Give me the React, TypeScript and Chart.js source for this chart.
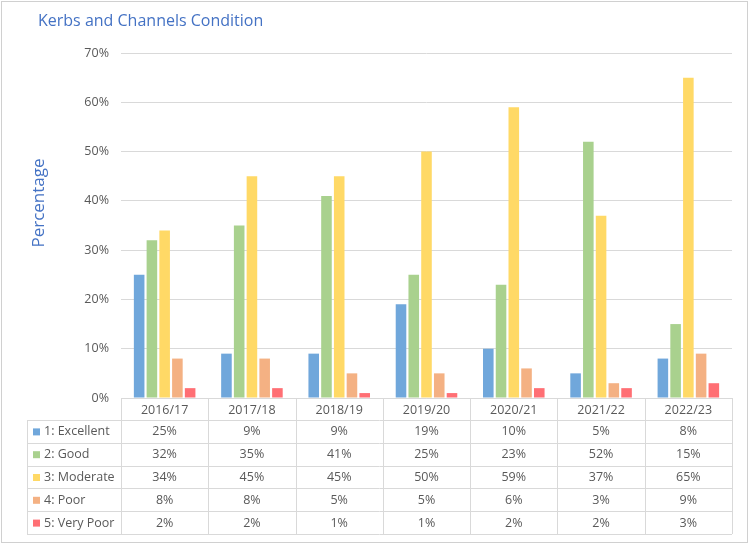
import React, { useEffect, useRef } from "react";
import { Chart, registerables } from "chart.js";

Chart.register(...registerables);

const chartTitle = "Kerbs and Channels Condition";
const yAxisTitle = "Percentage";
const categories = ["2016/17", "2017/18", "2018/19", "2019/20", "2020/21", "2021/22", "2022/23"];
const seriesNames = ["1: Excellent", "2: Good", "3: Moderate", "4: Poor", "5: Very Poor"];
const excellent = [25, 9, 9, 19, 10, 5, 8];
const good = [32, 35, 41, 25, 23, 52, 15];
const moderate = [34, 45, 45, 50, 59, 37, 65];
const poor = [8, 8, 5, 5, 6, 3, 9];
const veryPoor = [2, 2, 1, 1, 2, 2, 3];
const seriesValues = [excellent, good, moderate, poor, veryPoor];
const seriesColors = ["#70A7DB", "#A9D18E", "#FFD966", "#F4B183", "#FF6F74"];

const FONT = "'Open Sans', 'Noto Sans', sans-serif";
const TEXT = "#595959";
const LINE = "#D9D9D9";

const tablePlugin = {
  id: "dataTable",
  afterDraw(chart: any) {
    const ctx = chart.ctx as CanvasRenderingContext2D;
    const x = chart.scales.x;
    const area = chart.chartArea;
    const top = area.bottom;
    const headerH = 22;
    const rowH = 22.8;
    const left = 27;
    const right = area.right;
    const nRows = seriesNames.length;
    const bottom = top + headerH + rowH * nRows;
    ctx.save();
    // outer frame
    ctx.strokeStyle = "#D0D0D0";
    ctx.lineWidth = 1;
    ctx.strokeRect(1.5, 1.5, chart.width - 4, chart.height - 3);

    // title
    ctx.fillStyle = "#4472C4";
    ctx.font = `16px ${FONT}`;
    ctx.textAlign = "left";
    ctx.textBaseline = "middle";
    ctx.fillText(chartTitle, 38, 21);

    // y axis title
    ctx.save();
    ctx.translate(39, 203);
    ctx.rotate(-Math.PI / 2);
    ctx.font = `17px ${FONT}`;
    ctx.textAlign = "center";
    ctx.fillText(yAxisTitle, 0, 0);
    ctx.restore();

    ctx.strokeStyle = LINE;
    ctx.beginPath();
    const colW = x.getPixelForValue(1) - x.getPixelForValue(0);
    const colEdges: number[] = [];
    for (let i = 0; i <= categories.length; i++) {
      colEdges.push(x.getPixelForValue(i) - colW / 2);
    }
    const tableLeft = colEdges[0];
    const hl = (y: number, x0: number, x1: number) => {
      ctx.moveTo(x0, Math.round(y) + 0.5);
      ctx.lineTo(x1, Math.round(y) + 0.5);
    };
    hl(top, tableLeft, right);
    for (let r = 0; r <= nRows; r++) {
      hl(top + headerH + rowH * r, left, right);
    }
    const vl = (xx: number, y0: number, y1: number) => {
      ctx.moveTo(Math.round(xx) + 0.5, y0);
      ctx.lineTo(Math.round(xx) + 0.5, y1);
    };
    vl(left, top + headerH, bottom);
    colEdges.forEach((e) => vl(e, top, bottom));
    ctx.stroke();

    ctx.fillStyle = TEXT;
    ctx.font = `12.5px ${FONT}`;
    ctx.textAlign = "center";
    categories.forEach((c, i) => {
      ctx.fillText(c, x.getPixelForValue(i), top + headerH / 2 + 1);
    });
    seriesNames.forEach((name, r) => {
      const cy = top + headerH + rowH * r + rowH / 2 + 0.5;
      ctx.fillStyle = seriesColors[r];
      ctx.fillRect(33, cy - 3.5, 7, 7);
      ctx.fillStyle = TEXT;
      ctx.textAlign = "left";
      ctx.fillText(name, 44, cy);
      ctx.textAlign = "center";
      seriesValues[r].forEach((v, i) => {
        ctx.fillText(v + "%", x.getPixelForValue(i), cy);
      });
    });
    ctx.restore();
  },
};

export default function App() {
  const ref = useRef<HTMLCanvasElement | null>(null);
  useEffect(() => {
    if (!ref.current) return;
    const chart = new Chart(ref.current, {
      type: "bar",
      data: {
        labels: categories,
        datasets: seriesNames.map((n, i) => ({
          label: n,
          data: seriesValues[i],
          backgroundColor: seriesColors[i],
          borderWidth: 0,
          barPercentage: 0.83,
          categoryPercentage: 0.73,
        })),
      },
      options: {
        animation: false,
        responsive: false,
        maintainAspectRatio: false,
        layout: { padding: { left: 28, right: 18, top: 53, bottom: 146 } },
        plugins: {
          legend: { display: false },
          title: { display: false },
          tooltip: { enabled: false },
        },
        scales: {
          x: { display: false },
          y: {
            min: 0,
            max: 70,
            ticks: {
              stepSize: 10,
              padding: 12,
              color: TEXT,
              font: { family: FONT, size: 12.5 },
              callback: (v: any) => v + "%",
            },
            grid: { color: LINE, drawTicks: false },
            border: { display: false },
            afterFit: (s: any) => {
              s.width = 93;
            },
          },
        },
      },
      plugins: [tablePlugin],
    });
    return () => chart.destroy();
  }, []);
  return (
    <div style={{ position: "fixed", left: 0, top: 0, width: 750, height: 544, background: "#fff" }}>
      <canvas ref={ref} width={750} height={544} style={{ width: 750, height: 544 }} />
    </div>
  );
}
